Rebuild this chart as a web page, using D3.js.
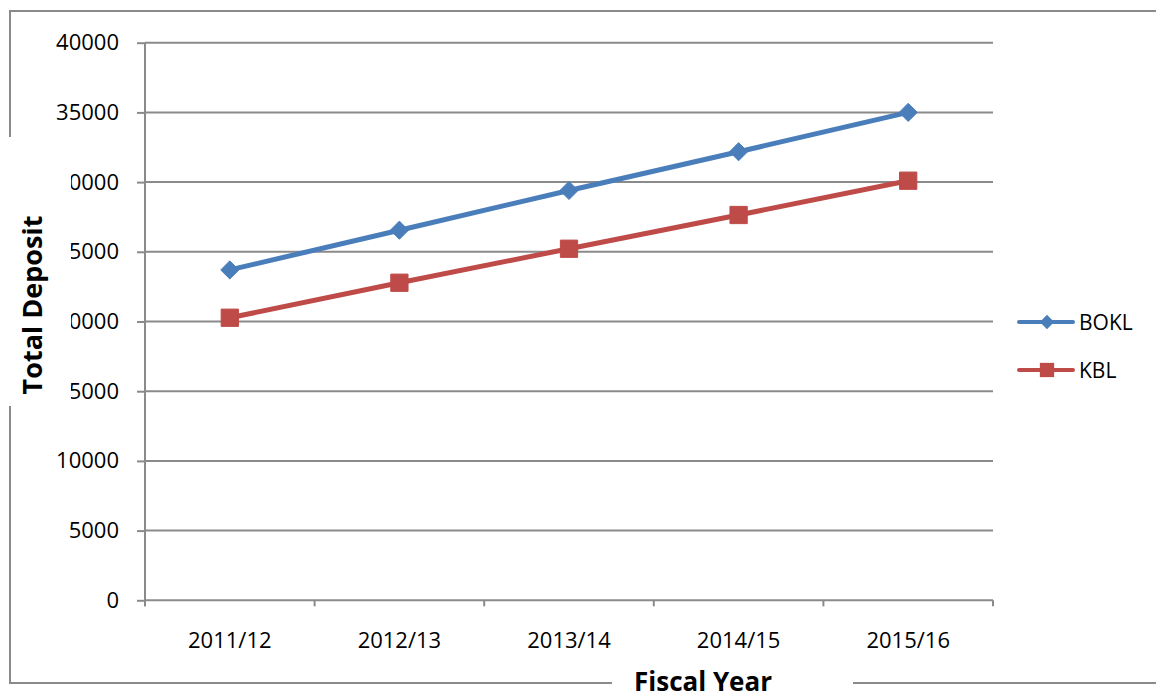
<!DOCTYPE html>
<html>
<head>
<meta charset="utf-8">
<script src="https://cdn.jsdelivr.net/npm/d3@7"></script>
<style>
  body { margin: 0; background: #fff; }
  svg { display: block; font-family: "Open Sans", sans-serif; }
</style>
</head>
<body>
<svg id="chart" width="1156" height="691"></svg>
<script>
// chart data
var years = ["2011/12", "2012/13", "2013/14", "2014/15", "2015/16"];
var bokl = [23700, 26550, 29400, 32180, 35000];
var kbl = [20270, 22780, 25220, 27640, 30100];
var yTicks = [0, 5000, 10000, 15000, 20000, 25000, 30000, 35000, 40000];
var seriesNames = ["BOKL", "KBL"];

var svg = d3.select("#chart");

// plot area edges (window.top is read-only, so no "top" var here)
var plotL = 145, plotR = 993, plotT = 42.7, plotB = 600.3;
var grey = "#8a8a8a";
var blue = "#4a7ebb", red = "#be4b48";

var x = d3.scaleBand().domain(years).range([plotL, plotR]);
var y = d3.scaleLinear().domain([0, 40000]).range([plotB, plotT]);

// outer frame (chart area border)
svg.append("rect")
    .attr("x", 10).attr("y", 11)
    .attr("width", 1160).attr("height", 672)
    .attr("fill", "none")
    .attr("stroke", grey)
    .attr("stroke-width", 2);

// gridlines
svg.append("g").selectAll("line")
    .data(yTicks)
    .enter().append("line")
    .attr("x1", plotL).attr("x2", plotR)
    .attr("y1", function (d) { return y(d); })
    .attr("y2", function (d) { return y(d); })
    .attr("stroke", grey).attr("stroke-width", 2);

// y axis
var yAxis = d3.axisLeft(y).tickValues(yTicks).tickFormat(d3.format("d")).tickSize(8).tickPadding(18);
var gy = svg.append("g").attr("transform", "translate(" + plotL + ",0)").call(yAxis);
gy.select(".domain").remove();
gy.selectAll(".tick line").attr("stroke", grey).attr("stroke-width", 2);
gy.selectAll(".tick text").attr("font-size", 22).attr("fill", "#000")
    .attr("font-family", "Open Sans");

// vertical axis line
svg.append("line")
    .attr("x1", plotL).attr("x2", plotL)
    .attr("y1", plotT).attr("y2", plotB + 6)
    .attr("stroke", grey).attr("stroke-width", 2);

// x axis ticks at band edges
var edges = years.map(function (d) { return x(d); }).concat([plotR]);
svg.append("g").selectAll("line")
    .data(edges)
    .enter().append("line")
    .attr("x1", function (d) { return d; })
    .attr("x2", function (d) { return d; })
    .attr("y1", plotB).attr("y2", plotB + 6)
    .attr("stroke", grey).attr("stroke-width", 2);

svg.append("g").selectAll("text")
    .data(years)
    .enter().append("text")
    .attr("x", function (d) { return x(d) + x.bandwidth() / 2; })
    .attr("y", 648)
    .attr("text-anchor", "middle")
    .attr("font-size", 22)
    .text(function (d) { return d; });

// axis titles, with white boxes that hide what is under them
svg.append("rect").attr("x", 0).attr("y", 137).attr("width", 71).attr("height", 269).attr("fill", "#fff");
svg.append("text")
    .attr("transform", "translate(42,305) rotate(-90)")
    .attr("text-anchor", "middle")
    .attr("font-size", 27)
    .attr("font-weight", "bold")
    .text("Total Deposit");

svg.append("rect").attr("x", 612).attr("y", 672).attr("width", 241).attr("height", 20).attr("fill", "#fff");
svg.append("text")
    .attr("x", 703).attr("y", 691)
    .attr("text-anchor", "middle")
    .attr("font-size", 26)
    .attr("font-weight", "bold")
    .text("Fiscal Year");

// lines and markers
var line = d3.line()
    .x(function (d, i) { return x(years[i]) + x.bandwidth() / 2; })
    .y(function (d) { return y(d); });

var diamond = d3.symbol().type(d3.symbolDiamond2).size(210);
var square = d3.symbol().type(d3.symbolSquare2).size(380);

var series = [
    {name: seriesNames[0], values: bokl, color: blue, sym: diamond},
    {name: seriesNames[1], values: kbl, color: red, sym: square}
];

series.forEach(function (s) {
    svg.append("path")
        .attr("d", line(s.values))
        .attr("fill", "none")
        .attr("stroke", s.color)
        .attr("stroke-width", 5);

    svg.append("g").selectAll("path")
        .data(s.values)
        .enter().append("path")
        .attr("transform", function (d, i) {
            return "translate(" + (x(years[i]) + x.bandwidth() / 2) + "," + y(d) + ")";
        })
        .attr("d", s.sym)
        .attr("fill", s.color)
        .attr("stroke", s.color)
        .attr("stroke-width", 1);
});

// legend
var legendSym = [
    d3.symbol().type(d3.symbolDiamond2).size(130),
    d3.symbol().type(d3.symbolSquare2).size(260)
];
var legend = svg.append("g").selectAll("g")
    .data(series)
    .enter().append("g")
    .attr("transform", function (d, i) { return "translate(1019," + (322 + i * 48) + ")"; });

legend.append("line")
    .attr("x1", 0).attr("x2", 54)
    .attr("stroke", function (d) { return d.color; })
    .attr("stroke-width", 4)
    .attr("stroke-linecap", "round");
legend.append("path")
    .attr("transform", "translate(28,0)")
    .attr("d", function (d, i) { return legendSym[i](); })
    .attr("fill", function (d) { return d.color; });
legend.append("text")
    .attr("x", 60).attr("y", 8)
    .attr("font-size", 21)
    .text(function (d) { return d.name; });
</script>
</body>
</html>
